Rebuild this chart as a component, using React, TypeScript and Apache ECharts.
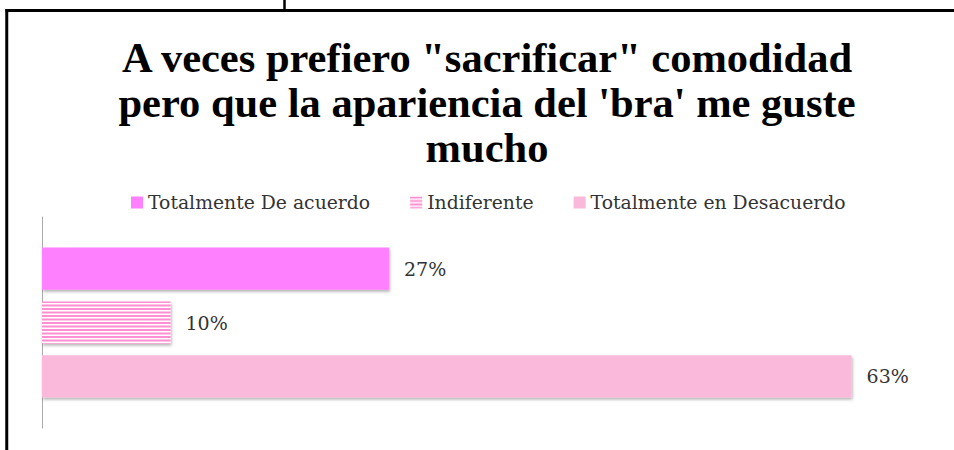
import React, { useEffect, useRef } from "react";
import * as echarts from "echarts";

const titleLines = [
  'A veces prefiero "sacrificar" comodidad',
  "pero que la apariencia del 'bra' me guste",
  "mucho",
];
const categories = ["Respuesta"];
const seriesNames = ["Totalmente De acuerdo", "Indiferente", "Totalmente en Desacuerdo"];
const seriesValues = [27, 10, 63];
const seriesColors = ["#FF80FF", "#FF8ED2", "#FAB9DA"];

function makeStripes(color: string) {
  const c = document.createElement("canvas");
  c.width = 8;
  c.height = 7;
  const ctx = c.getContext("2d")!;
  ctx.fillStyle = "#ffffff";
  ctx.fillRect(0, 0, 8, 7);
  ctx.fillStyle = color;
  ctx.fillRect(0, 0, 8, 2);
  ctx.fillRect(0, 3.5, 8, 2);
  return c;
}

export default function App() {
  const ref = useRef<HTMLDivElement>(null);
  useEffect(() => {
    if (!ref.current) return;
    const chart = echarts.init(ref.current, undefined, { renderer: "svg" });
    const serif = "'DejaVu Serif', serif";
    const stripe = makeStripes(seriesColors[1]);
    const series = seriesNames.map((name, i) => ({
      name,
      type: "bar",
      data: [seriesValues[i]],
      barGap: "28%",
      barCategoryGap: "29%",
      itemStyle: {
        color:
          i === 1
            ? { image: stripe, repeat: "repeat", imageWidth: 8, imageHeight: 7 }
            : seriesColors[i],
        shadowColor: "rgba(0,0,0,0.3)",
        shadowBlur: 3,
        shadowOffsetX: 1,
        shadowOffsetY: 2,
      },
      label: {
        show: true,
        position: "right",
        distance: 15,
        formatter: "{c}%",
        fontFamily: serif,
        fontSize: 19,
        color: "#333333",
      },
    }));
    chart.setOption({
      animation: false,
      backgroundColor: "#ffffff",
      title: {
        text: titleLines.join("\n"),
        left: 482,
        top: 30,
        textAlign: "center",
        textStyle: {
          fontFamily: "'Liberation Serif', serif",
          fontWeight: "bold",
          fontSize: 42.5,
          lineHeight: 45,
          color: "#000000",
        },
      },
      legend: {
        top: 188,
        left: 126,
        itemWidth: 12,
        itemHeight: 12,
        itemGap: 40,
        icon: "rect",
        textStyle: { fontFamily: serif, fontSize: 18.8, color: "#333333" },
        data: seriesNames,
      },
      grid: { left: 42, right: 12.5, top: 217, bottom: 22, containLabel: false },
      xAxis: {
        type: "value",
        min: 0,
        max: 70,
        show: false,
        splitLine: { show: false },
      },
      yAxis: {
        type: "category",
        data: categories,
        inverse: true,
        axisLine: { show: true, lineStyle: { color: "#aaaaaa", width: 1 } },
        axisTick: { show: false },
        axisLabel: { show: false },
      },
      series,
      graphic: [
        { type: "line", shape: { x1: 5.5, y1: 10.5, x2: 954, y2: 10.5 }, style: { stroke: "#000", lineWidth: 3 } },
        { type: "line", shape: { x1: 6.75, y1: 9, x2: 6.75, y2: 450 }, style: { stroke: "#000", lineWidth: 3 } },
        { type: "line", shape: { x1: 284.5, y1: 0, x2: 284.5, y2: 10 }, style: { stroke: "#000", lineWidth: 2.5 } },
      ],
    });
    return () => chart.dispose();
  }, []);
  return (
    <div
      ref={ref}
      style={{ position: "absolute", left: 0, top: 0, width: 954, height: 450 }}
    />
  );
}
